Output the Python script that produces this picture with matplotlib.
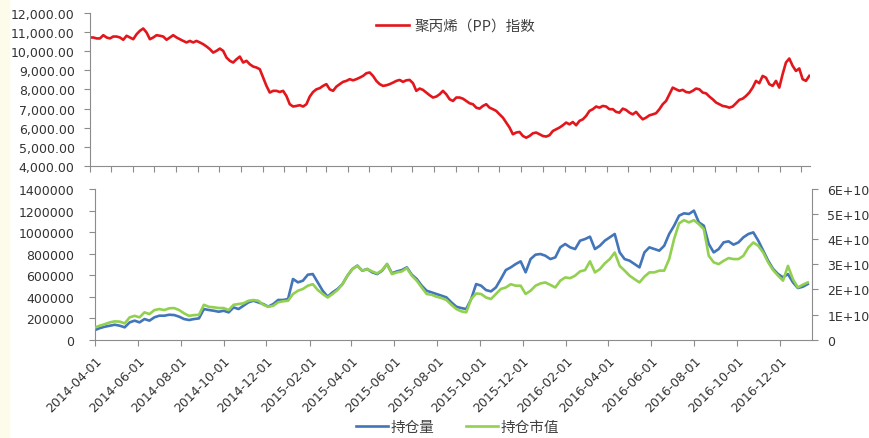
import matplotlib.pyplot as plt
import matplotlib.dates as mdates
import matplotlib.ticker as mticker
from matplotlib.patches import Rectangle
import numpy as np
import pandas as pd

# PP index (roughly every 5 days)
pp_index = [
    10720, 10720, 10670, 10670, 10840, 10720, 10670, 10770, 10770, 10720,
    10600, 10810, 10720, 10630, 10890, 11070, 11190, 10980, 10630, 10720,
    10840, 10810, 10770, 10600, 10720, 10840, 10720, 10630, 10540, 10460,
    10540, 10460, 10540, 10460, 10370, 10250, 10110, 9930, 10020, 10140,
    10020, 9670, 9500, 9410, 9580, 9720, 9410, 9500, 9320, 9200,
    9150, 9060, 8620, 8190, 7840, 7930, 7930, 7870, 7930, 7660,
    7230, 7110, 7140, 7180, 7110, 7230, 7630, 7870, 8010, 8070,
    8190, 8280, 8010, 7930, 8150, 8280, 8400, 8450, 8540, 8480,
    8540, 8620, 8710, 8850, 8890, 8710, 8450, 8280, 8190, 8220,
    8280, 8360, 8450, 8500, 8400, 8480, 8500, 8330, 7930, 8050,
    7980, 7840, 7700, 7580, 7630, 7750, 7930, 7750, 7490, 7400,
    7580, 7580, 7520, 7400, 7280, 7230, 7050, 7000, 7140, 7230,
    7050, 6970, 6880, 6700, 6530, 6270, 6010, 5660, 5750, 5780,
    5570, 5480, 5570, 5710, 5750, 5660, 5570, 5540, 5610, 5830,
    5920, 6010, 6130, 6270, 6180, 6300, 6130, 6360, 6440, 6620,
    6880, 6970, 7110, 7050, 7140, 7110, 6970, 6970, 6830, 6790,
    7000, 6930, 6790, 6700, 6830, 6620, 6440, 6530, 6650, 6700,
    6760, 6970, 7230, 7400, 7750, 8100, 8010, 7930, 7980, 7870,
    7840, 7930, 8050, 8010, 7840, 7800, 7630, 7490, 7320, 7230,
    7140, 7110, 7050, 7110, 7280, 7460, 7520, 7660, 7840, 8100,
    8450, 8330, 8710, 8620, 8280, 8190, 8450, 8100, 8800, 9410,
    9620, 9240, 8970, 9100, 8540, 8450, 8710,
]

# open interest (lots), roughly weekly
open_interest = [
    90000, 108000, 121000, 130000, 139000, 130000, 115000, 161000, 177000, 161000,
    192000, 177000, 208000, 223000, 223000, 232000, 229000, 214000, 192000, 183000,
    192000, 198000, 285000, 276000, 269000, 260000, 269000, 254000, 300000, 285000,
    316000, 347000, 362000, 347000, 331000, 307000, 331000, 369000, 369000, 378000,
    564000, 533000, 548000, 604000, 610000, 533000, 455000, 400000, 440000, 471000,
    517000, 595000, 657000, 688000, 641000, 657000, 626000, 610000, 641000, 703000,
    616000, 635000, 647000, 672000, 604000, 564000, 502000, 455000, 440000, 424000,
    409000, 393000, 347000, 307000, 294000,
    285000, 378000, 517000, 502000, 461000, 449000, 486000, 564000, 647000, 672000,
    703000, 728000, 626000, 749000, 790000, 796000, 780000, 749000, 765000, 858000,
    889000, 858000, 842000, 920000, 935000, 957000, 842000, 873000, 920000, 951000,
    982000, 811000, 749000, 734000, 703000, 672000, 811000, 858000, 842000, 827000,
    873000, 982000, 1059000, 1152000, 1174000, 1168000, 1199000, 1090000, 1059000, 889000,
    811000, 842000, 904000, 914000, 883000, 904000, 951000, 982000, 997000, 920000,
    827000, 734000, 657000, 610000, 579000, 610000, 533000, 480000, 492000, 517000,
]

# open interest market value, in units of 1E+10
oi_value = [
    0.49, 0.56, 0.62, 0.69, 0.73, 0.72, 0.65, 0.89, 0.95, 0.89,
    1.09, 1.02, 1.18, 1.22, 1.18, 1.25, 1.26, 1.18, 1.05, 0.95,
    0.98, 0.99, 1.39, 1.31, 1.29, 1.26, 1.26, 1.18, 1.39, 1.42,
    1.45, 1.55, 1.58, 1.55, 1.39, 1.31, 1.35, 1.49, 1.53, 1.55,
    1.82, 1.95, 2.02, 2.15, 2.21, 1.98, 1.82, 1.68, 1.82, 1.98,
    2.21, 2.55, 2.81, 2.94, 2.75, 2.81, 2.72, 2.64, 2.77, 3.01,
    2.61, 2.68, 2.72, 2.85, 2.55, 2.35, 2.08, 1.82, 1.79, 1.71,
    1.66, 1.58, 1.39, 1.22, 1.13,
    1.09, 1.62, 1.84, 1.82, 1.68, 1.62, 1.82, 2.02, 2.08, 2.21,
    2.15, 2.15, 1.82, 1.95, 2.15, 2.24, 2.28, 2.18, 2.08, 2.35,
    2.48, 2.45, 2.55, 2.72, 2.77, 3.12, 2.68, 2.81, 3.04, 3.21,
    3.47, 2.94, 2.75, 2.55, 2.41, 2.28, 2.51, 2.68, 2.68, 2.75,
    2.75, 3.21, 4.01, 4.63, 4.76, 4.67, 4.76, 4.60, 4.40, 3.34,
    3.08, 3.01, 3.14, 3.25, 3.21, 3.21, 3.34, 3.67, 3.87, 3.74,
    3.47, 3.08, 2.77, 2.55, 2.35, 2.94, 2.41, 2.08, 2.19, 2.28,
]

pp_dates = pd.date_range('2014-04-01', '2017-01-12', periods=len(pp_index))
oi_dates = pd.date_range('2014-04-01', '2017-01-10', periods=len(open_interest))

plt.rcParams['font.family'] = ['DejaVu Sans', 'Noto Sans CJK SC']
plt.rcParams['font.size'] = 9

spine_col = '#8c8c8c'
text_col = '#333333'
cjk = {'family': ['Noto Sans CJK SC', 'DejaVu Sans'], 'size': 10.5}

fig = plt.figure(figsize=(8.7, 4.39), dpi=100)
fig.add_artist(Rectangle((0, 0), 9 / 870, 1, transform=fig.transFigure,
                         color='#fdfbe9', zorder=0))

# upper panel: PP index
ax1 = fig.add_axes([0.1034, 0.6196, 0.8276, 0.3485])
line_pp, = ax1.plot(pp_dates, pp_index, color='#e3161c', lw=1.9,
                    label='聚丙烯（PP）指数')
ax1.set_ylim(4000, 12000)
ax1.set_yticks(range(4000, 12001, 1000))
ax1.yaxis.set_major_formatter(mticker.FuncFormatter(lambda v, p: f'{v:,.2f}'))
ax1.set_xlim(pd.Timestamp('2014-04-01'), pd.Timestamp('2017-01-13'))
ax1.xaxis.set_major_locator(mdates.MonthLocator())
ax1.xaxis.set_major_formatter(mticker.NullFormatter())
for s in ['top', 'right']:
    ax1.spines[s].set_visible(False)
for s in ['left', 'bottom']:
    ax1.spines[s].set_color(spine_col)
ax1.tick_params(colors=spine_col, labelcolor=text_col, length=4, width=0.8)
ax1.tick_params(axis='y', pad=7)

# lower panel: open interest and its market value
ax2 = fig.add_axes([0.1092, 0.2239, 0.8241, 0.3433])
line_oi, = ax2.plot(oi_dates, open_interest, color='#4275b9', lw=1.9, label='持仓量')
ax3 = ax2.twinx()
line_val, = ax3.plot(oi_dates, np.array(oi_value) * 1e10, color='#92d050', lw=1.9,
                     label='持仓市值')
ax2.set_ylim(0, 1400000)
ax2.set_yticks(range(0, 1400001, 200000))
ax2.yaxis.set_major_formatter(mticker.FuncFormatter(lambda v, p: f'{int(v)}'))
ax3.set_ylim(0, 6e10)
ax3.set_yticks(np.arange(0, 6.01e10, 1e10))
ax3.yaxis.set_major_formatter(mticker.FuncFormatter(
    lambda v, p: '0' if v == 0 else f'{int(round(v / 1e10))}E+10'))
ax2.set_xlim(pd.Timestamp('2014-04-01'), pd.Timestamp('2017-01-16'))
ax2.xaxis.set_major_locator(mdates.MonthLocator(bymonth=[2, 4, 6, 8, 10, 12]))
ax2.xaxis.set_major_formatter(mdates.DateFormatter('%Y-%m-%d'))
plt.setp(ax2.get_xticklabels(), rotation=45, ha='right', rotation_mode='anchor')

for a in [ax2, ax3]:
    a.spines['top'].set_visible(False)
    for s in ['left', 'bottom', 'right']:
        a.spines[s].set_color(spine_col)
ax2.spines['right'].set_visible(False)
ax3.spines['left'].set_visible(False)
ax3.spines['bottom'].set_visible(False)
ax2.tick_params(colors=spine_col, labelcolor=text_col, length=4, width=0.8)
ax2.tick_params(axis='y', pad=11)
ax2.tick_params(axis='x', pad=6)
ax3.tick_params(colors=spine_col, labelcolor=text_col, length=4, width=0.8, pad=7)

fig.legend(handles=[line_pp], loc='center', bbox_to_anchor=(0.524, 0.939),
           frameon=False, prop=cjk, handlelength=2.2, handletextpad=0.4,
           labelcolor='#404040')
fig.legend(handles=[line_oi, line_val], loc='center', bbox_to_anchor=(0.526, 0.024),
           ncol=2, frameon=False, prop=cjk, handlelength=2.2, handletextpad=0.15,
           columnspacing=2.2, labelcolor='#404040')

fig.savefig('out.png', dpi=100)
